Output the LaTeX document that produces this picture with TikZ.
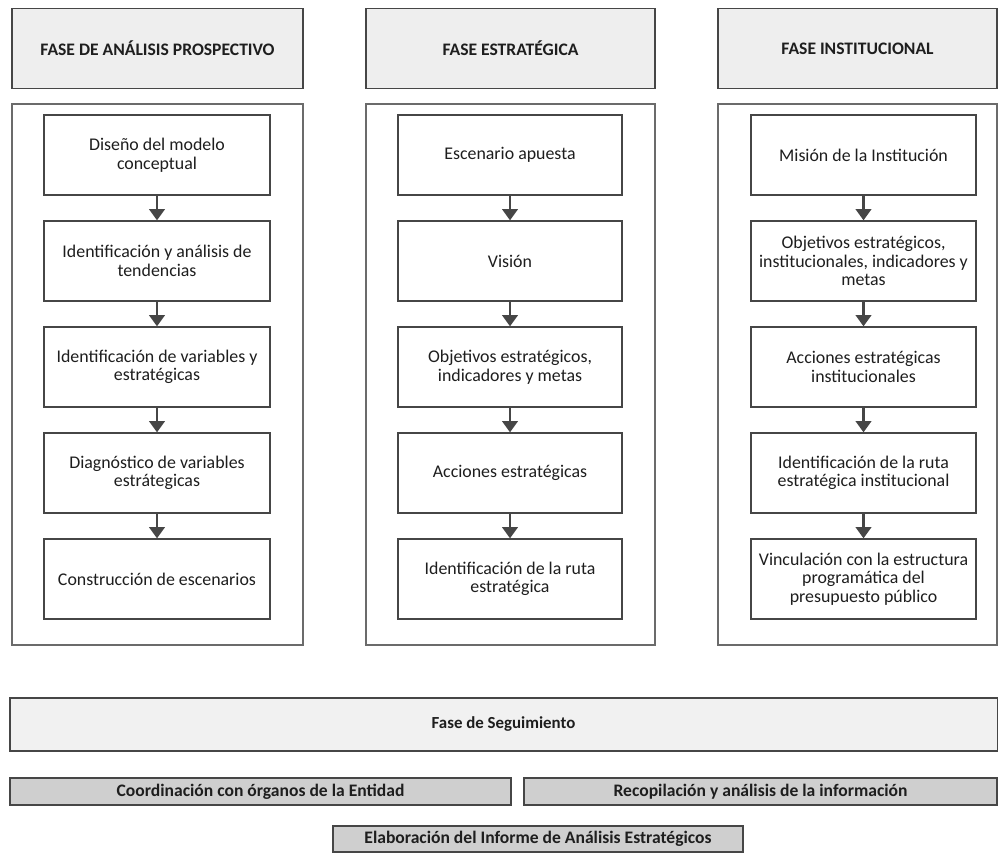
\documentclass[tikz,border=0pt]{standalone}
\usepackage{fontspec}
\setmainfont{Carlito}
\usetikzlibrary{arrows.meta}
\usetikzlibrary{positioning}

\definecolor{borde}{RGB}{70,70,70}
\definecolor{tinta}{RGB}{30,30,30}

\begin{document}
\begin{tikzpicture}[x=0.025cm, y=-0.025cm,
    fase/.style={draw=borde, line width=0.9pt, fill=gray!13, text=tinta, font=\fontsize{12.5}{14}\selectfont\bfseries, minimum height=2cm, inner sep=0pt},
    paso/.style={draw=borde, line width=0.9pt, fill=white, text=tinta, font=\fontsize{12.7}{13.2}\selectfont, align=center, minimum height=2cm, inner sep=2pt},
    marco/.style={draw=borde!80, line width=0.8pt},
    flujo/.style={-{Triangle[width=11pt,length=8pt]}, line width=1.8pt, draw=borde},
    seguimiento/.style={draw=borde, line width=0.9pt, fill=gray!11, text=tinta, font=\fontsize{12}{14}\selectfont\bfseries, inner sep=0pt},
    tarea/.style={draw=borde, line width=0.9pt, fill=gray!38, text=tinta, font=\fontsize{12.5}{14}\selectfont\bfseries, inner sep=0pt, minimum height=0.67cm}]

  \useasboundingbox (0,0) rectangle (999,853);

 %headers
  \node[fase, minimum width=7.275cm] (h1) at (157.5,48.5) {FASE DE ANÁLISIS PROSPECTIVO};
  \node[fase, minimum width=7.225cm] (h2) at (510.5,48.5) {FASE ESTRATÉGICA};
  \node[fase, minimum width=6.975cm] (h3) at (857.5,48.5) {FASE INSTITUCIONAL};

 %frames
  \draw[marco] (12,104) rectangle (303,645);
  \draw[marco] (366,104) rectangle (655,645);
  \draw[marco] (718,104) rectangle (997,645);

 %column 1
  \foreach \i/\txt in {1/{Diseño del modelo\\conceptual}, 2/{Identificación y análisis de\\tendencias}, 3/{Identificación de variables y\\estratégicas}, 4/{Diagnóstico de variables\\estrátegicas}, 5/{Construcción de escenarios}} {
      \node[paso, minimum width=5.65cm] (a\i) at (157, 155+\i*106-106) {\txt};
  }

 %column 2
  \foreach \i/\txt in {1/{Escenario apuesta}, 2/{Visión}, 3/{Objetivos estratégicos,\\indicadores y metas}, 4/{Acciones estratégicas}, 5/{Identificación de la ruta\\estratégica}} {
      \node[paso, minimum width=5.6cm] (b\i) at (510, 155+\i*106-106) {\txt};
  }

 %column 3
  \foreach \i/\txt in {1/{Misión de la Institución}, 2/{Objetivos estratégicos,\\institucionales, indicadores y\\metas}, 3/{Acciones estratégicas\\institucionales}, 4/{Identificación de la ruta\\estratégica institucional}, 5/{Vinculación con la estructura\\programática del\\presupuesto público}} {
      \node[paso, minimum width=5.625cm] (c\i) at (863.5, 155+\i*106-106) {\txt};
  }

 %arrows
  \foreach \i/\j in {1/2, 2/3, 3/4, 4/5} {
      \draw[flujo] (a\i) -- (a\j);
      \draw[flujo] (b\i) -- (b\j);
      \draw[flujo] (c\i) -- (c\j);
  }

 %follow-up
  \node[seguimiento, minimum width=24.675cm, minimum height=1.325cm] (seg) at (503.5,724.5) {Fase de Seguimiento};
  \node[tarea, minimum width=12.525cm] (coord) at (260.5,791.5) {Coordinación con órganos de la Entidad};
  \node[tarea, minimum width=11.825cm] (recop) at (760.5,791.5) {Recopilación y análisis de la información};
  \node[tarea, minimum width=10.25cm, minimum height=0.65cm] (infor) at (538,839) {Elaboración del Informe de Análisis Estratégicos};

\end{tikzpicture}
\end{document}
